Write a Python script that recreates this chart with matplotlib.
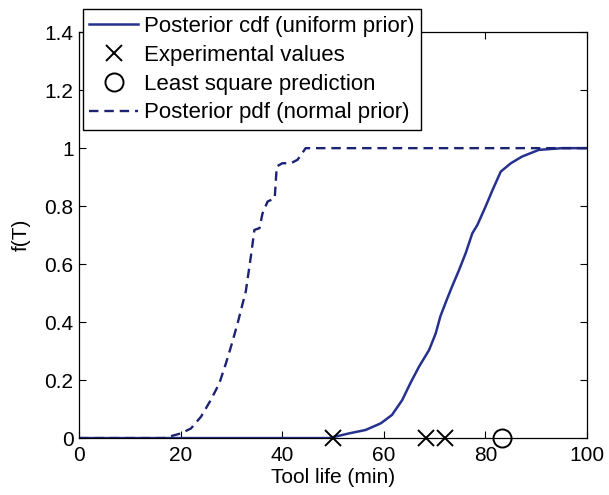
import matplotlib
matplotlib.use("Agg")
import matplotlib.pyplot as plt

plt.rcParams['font.family'] = ['Liberation Sans', 'DejaVu Sans']

# Posterior cdf with a uniform prior
cdf_uniform_t = [0, 49.2, 53.1, 56.4, 59.4, 61.6, 63.6, 65.2, 66.9, 68.9, 70.2, 71.1,
                 72.1, 73.4, 74.8, 76.1, 77.4, 78.4, 80.0, 81.4, 83.0, 85.0, 87.2,
                 90.5, 95.1, 100]
cdf_uniform_f = [0, 0.0, 0.016, 0.028, 0.051, 0.080, 0.131, 0.189, 0.246, 0.304, 0.361,
                 0.419, 0.465, 0.522, 0.580, 0.638, 0.706, 0.735, 0.798, 0.856, 0.919,
                 0.948, 0.971, 0.994, 1.0, 1.0]

# Posterior with a normal prior
cdf_normal_t = [0, 16.7, 20.0, 22.0, 24.0, 25.9, 27.6, 28.9, 29.9, 31.2, 32.2, 32.8,
                33.9, 34.5, 35.5, 36.1, 37.1, 38.5, 38.9, 40.0, 41.7, 43.0, 44.6, 100]
cdf_normal_f = [0, 0.0, 0.016, 0.033, 0.074, 0.131, 0.189, 0.258, 0.316, 0.396, 0.465,
                0.505, 0.638, 0.718, 0.724, 0.775, 0.816, 0.827, 0.937, 0.948, 0.948,
                0.960, 1.0, 1.0]

# Measured tool lives and the least-squares estimate
experimental_t = [50.0, 68.3, 72.1]
least_square_t = [83.2]

fig = plt.figure(figsize=(6.09, 4.95), dpi=100)
ax = fig.add_axes([0.13, 0.115, 0.834, 0.82])

line_solid, = ax.plot(cdf_uniform_t, cdf_uniform_f, '-', color='#26318f', lw=1.8,
                      label='Posterior cdf (uniform prior)')
line_x, = ax.plot(experimental_t, [0] * len(experimental_t), 'x', color='black',
                  ms=12, mew=1.4, clip_on=False, zorder=5, label='Experimental values')
line_o, = ax.plot(least_square_t, [0] * len(least_square_t), 'o', mfc='none',
                  mec='black', ms=13, mew=1.4, clip_on=False, zorder=5,
                  label='Least square prediction')
line_dash, = ax.plot(cdf_normal_t, cdf_normal_f, '--', color='#1b2372', lw=1.7,
                     dashes=(4, 2.5), label='Posterior pdf (normal prior)')

ax.set_xlim(0, 100)
ax.set_ylim(0, 1.4)
ax.set_xticks([0, 20, 40, 60, 80, 100])
ax.set_yticks([0, 0.2, 0.4, 0.6, 0.8, 1.0, 1.2, 1.4])
ax.set_yticklabels(['0', '0.2', '0.4', '0.6', '0.8', '1', '1.2', '1.4'])
ax.tick_params(direction='in', top=True, right=True, length=5, width=0.8,
               labelsize=15, colors='black')
ax.tick_params(axis='x', pad=6)
ax.tick_params(axis='y', pad=4)
for s in ax.spines.values():
    s.set_linewidth(0.9)

ax.set_xlabel('Tool life (min)', fontsize=15, labelpad=2)
ax.set_ylabel('f(T)', fontsize=15, labelpad=10)

leg = fig.legend(handles=[line_solid, line_x, line_o, line_dash],
                 loc='upper left', bbox_to_anchor=(0.136, 0.981),
                 fontsize=16, frameon=True, fancybox=False, framealpha=1,
                 edgecolor='black', handlelength=2.2, handletextpad=0.25,
                 labelspacing=0.35, borderpad=0.3, borderaxespad=0)
leg.get_frame().set_linewidth(1.0)

fig.savefig('out.png', dpi=100)
